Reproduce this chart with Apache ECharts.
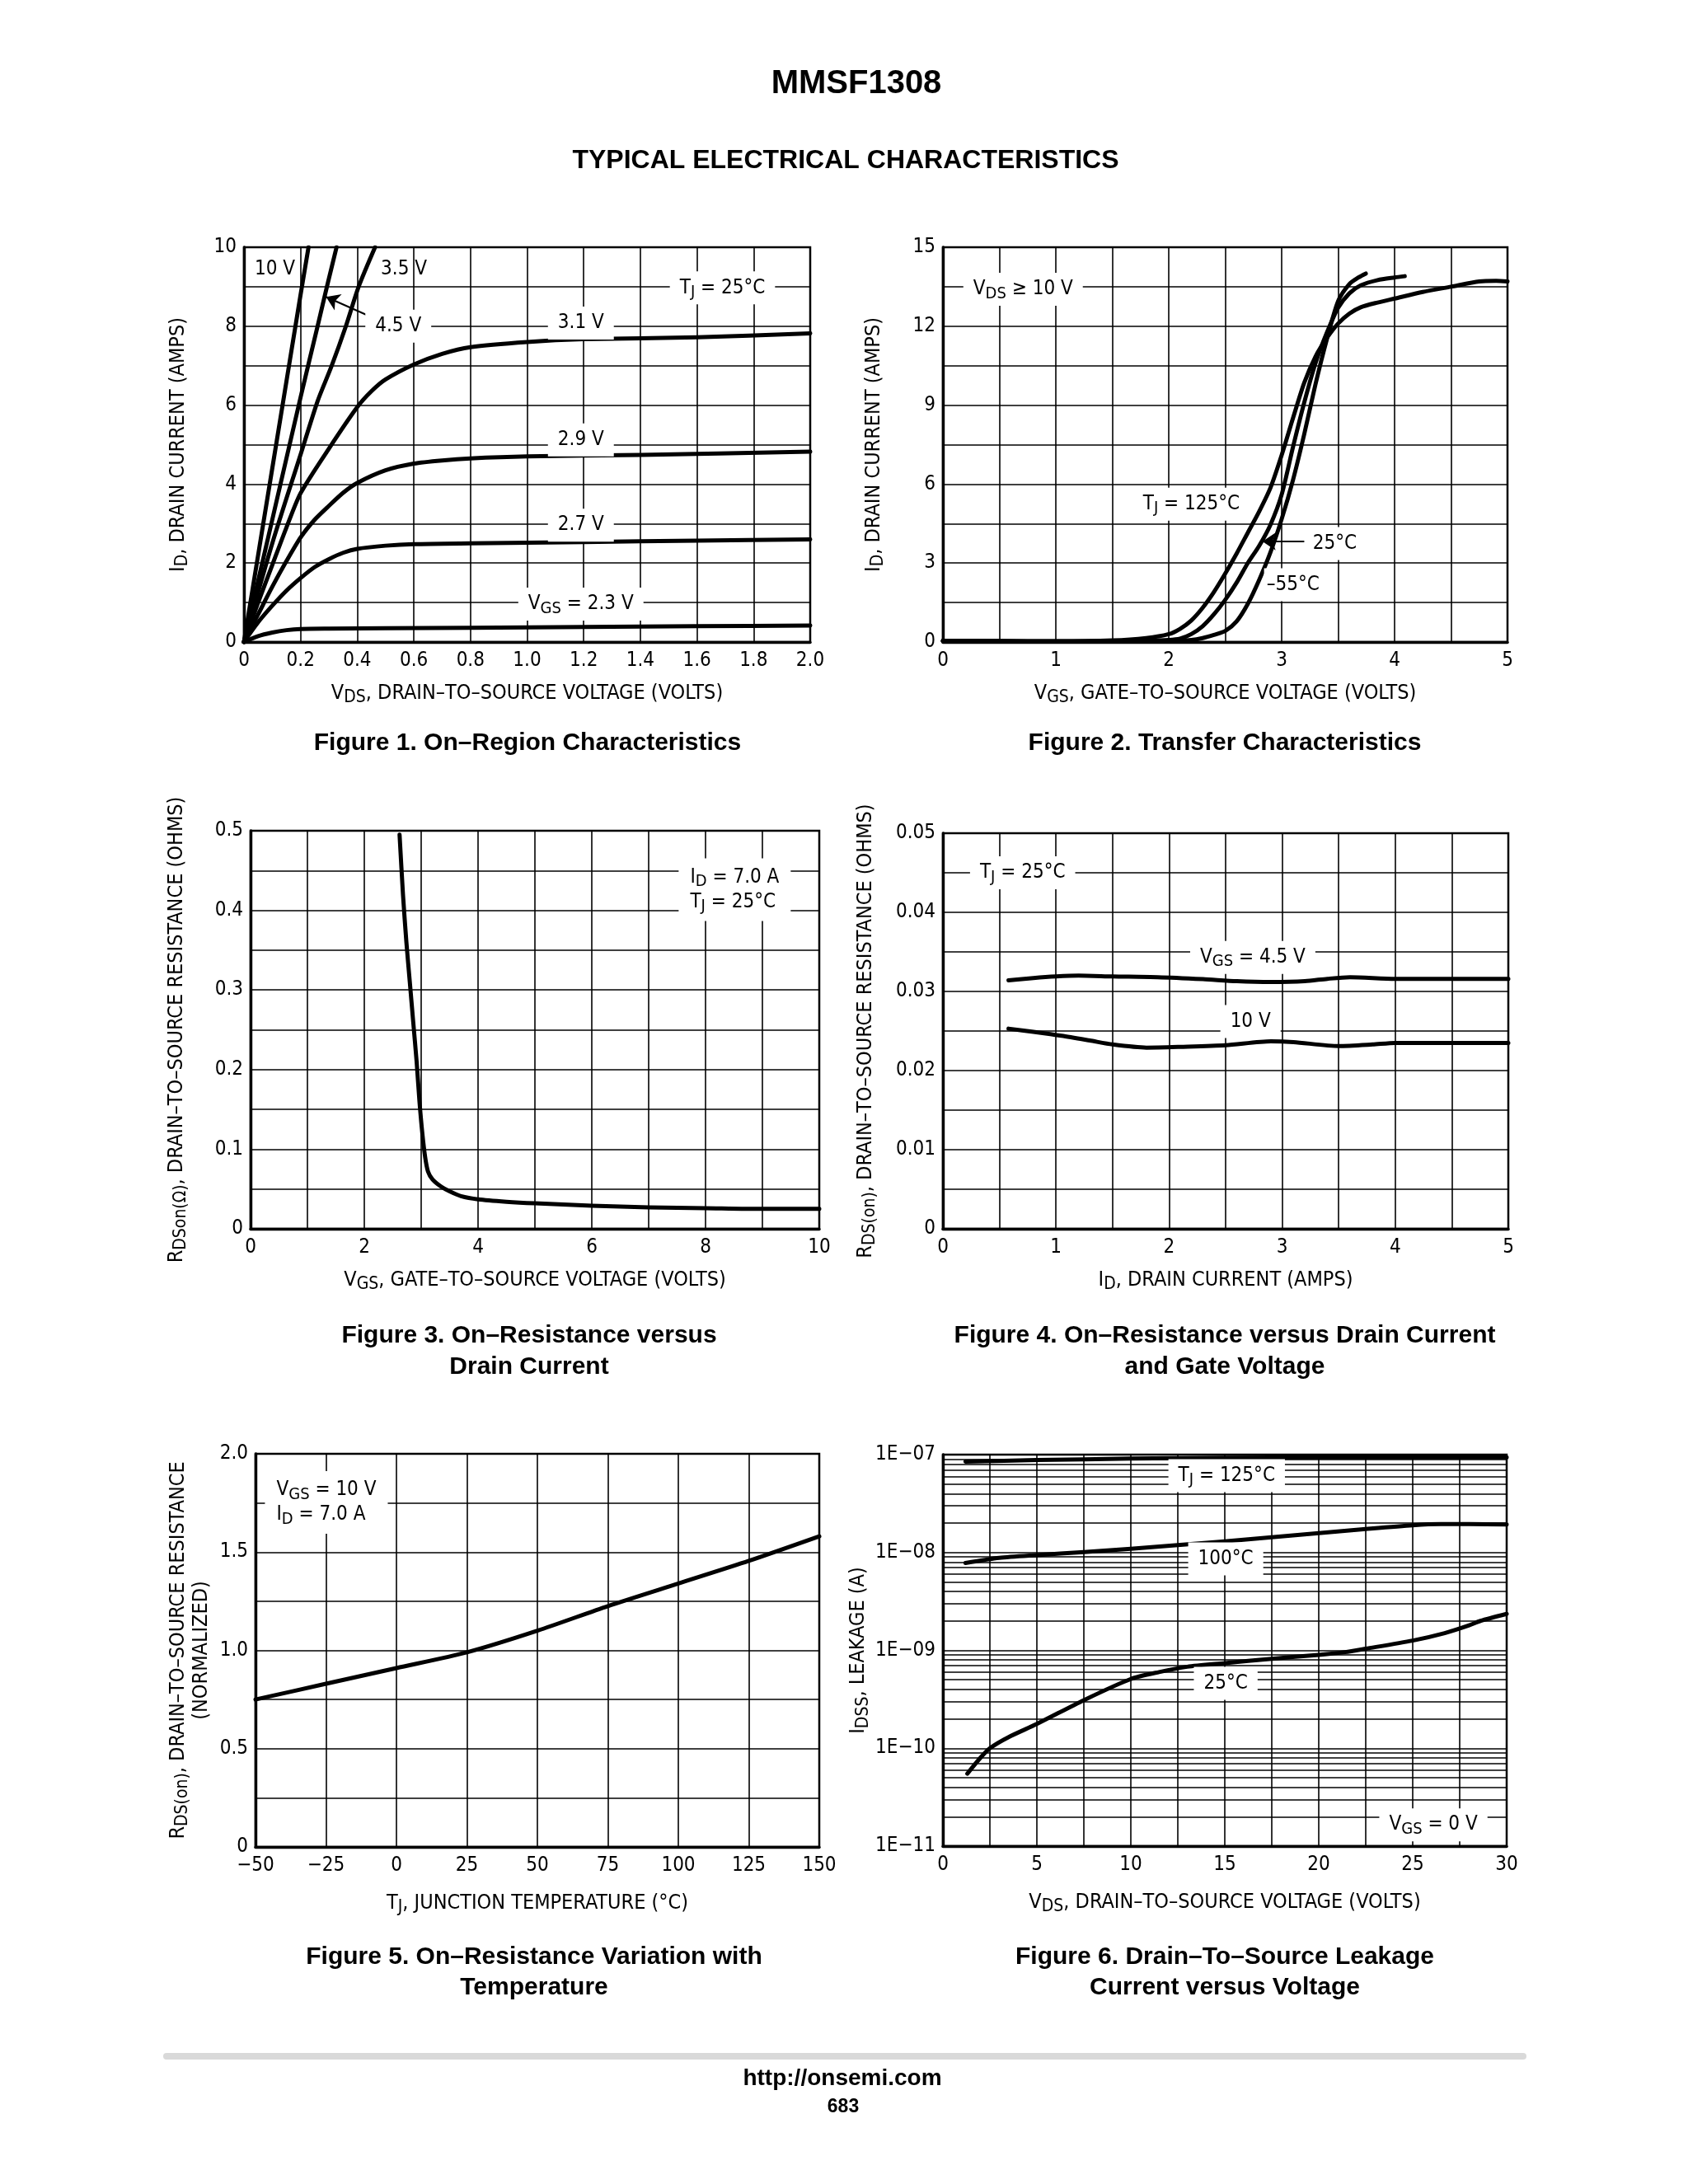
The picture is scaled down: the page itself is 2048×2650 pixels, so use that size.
<!DOCTYPE html>
<html><head><meta charset="utf-8">
<script src="https://cdn.jsdelivr.net/npm/echarts@6/dist/echarts.min.js"></script>
<style>html,body{margin:0;padding:0;background:#fff}#c{width:2048px;height:2650px}</style>
</head><body><div id="c"></div>
<script>
// ================= DATA =================
// Figure 1: ID vs VDS for several VGS
const f1_vgs23 = [[0,0],[0.05,0.15],[0.1,0.24],[0.15,0.3],[0.2,0.33],[0.3,0.34],[0.5,0.35],[0.8,0.36],[1.2,0.38],[1.6,0.4],[2.0,0.42]];
const f1_vgs27 = [[0,0],[0.05,0.5],[0.1,0.92],[0.15,1.3],[0.2,1.62],[0.25,1.9],[0.3,2.1],[0.35,2.26],[0.4,2.36],[0.5,2.44],[0.6,2.48],[0.8,2.5],[1.2,2.53],[1.6,2.57],[2.0,2.6]];
const f1_vgs29 = [[0,0],[0.05,0.7],[0.1,1.4],[0.15,2.05],[0.2,2.65],[0.25,3.1],[0.3,3.45],[0.35,3.78],[0.4,4.03],[0.5,4.35],[0.6,4.52],[0.7,4.6],[0.8,4.65],[1.0,4.7],[1.4,4.74],[2.0,4.82]];
const f1_vgs31 = [[0,0],[0.05,1.0],[0.1,1.95],[0.15,2.9],[0.2,3.77],[0.3,4.9],[0.4,5.95],[0.45,6.35],[0.5,6.65],[0.6,7.03],[0.7,7.3],[0.8,7.47],[1.0,7.6],[1.2,7.67],[1.6,7.72],[2.0,7.82]];
const f1_vgs35 = [[0,0],[0.1,2.5],[0.2,4.75],[0.26,6.1],[0.31,7.0],[0.36,8.0],[0.405,9.0],[0.463,10]];
const f1_vgs45 = [[0,0],[0.1,3.1],[0.2,6.2],[0.26,8.0],[0.293,9.0],[0.327,10]];
const f1_vgs10 = [[0,0],[0.1,4.4],[0.2,8.8],[0.228,10]];
// Figure 2: ID vs VGS at three temperatures
const f2_t125 = [[0,0.05],[0.5,0.04],[1.0,0.03],[1.5,0.06],[1.8,0.15],[2.0,0.3],[2.1,0.5],[2.2,0.82],[2.3,1.3],[2.4,1.9],[2.5,2.6],[2.6,3.35],[2.7,4.15],[2.8,4.95],[2.9,5.85],[3.0,7.1],[3.1,8.5],[3.2,9.85],[3.3,10.85],[3.4,11.55],[3.5,12.1],[3.6,12.48],[3.7,12.72],[3.85,12.9],[4.0,13.05],[4.25,13.3],[4.5,13.5],[4.75,13.7],[4.9,13.72],[5.0,13.7]];
const f2_t25 = [[0,0.05],[0.5,0.03],[1.0,0.02],[1.5,0.03],[1.8,0.05],[2.0,0.08],[2.1,0.13],[2.2,0.3],[2.3,0.6],[2.4,1.05],[2.5,1.6],[2.6,2.25],[2.7,3.0],[2.8,3.65],[2.9,4.45],[3.0,5.6],[3.1,7.4],[3.2,9.1],[3.3,10.6],[3.4,11.75],[3.5,12.7],[3.6,13.25],[3.7,13.55],[3.85,13.75],[4.0,13.85],[4.09,13.9]];
const f2_tm55 = [[0,0.05],[0.5,0.03],[1.0,0.02],[1.5,0.02],[2.0,0.04],[2.2,0.08],[2.3,0.15],[2.4,0.27],[2.5,0.42],[2.6,0.78],[2.7,1.45],[2.8,2.35],[2.9,3.4],[3.0,4.67],[3.1,6.15],[3.2,7.9],[3.3,9.8],[3.4,11.5],[3.5,12.95],[3.6,13.6],[3.68,13.85],[3.745,14.0]];
// Figure 3: RDS(on) vs VGS
const f3_rds = [[2.62,0.495],[2.68,0.42],[2.74,0.36],[2.8,0.31],[2.86,0.26],[2.92,0.21],[2.97,0.16],[3.02,0.12],[3.07,0.09],[3.12,0.072],[3.2,0.062],[3.35,0.053],[3.5,0.047],[3.7,0.041],[4.0,0.037],[4.5,0.034],[5.0,0.032],[6.0,0.029],[7.0,0.027],[8.0,0.026],[9.0,0.025],[10.0,0.025]];
// Figure 4: RDS(on) vs ID
const f4_vgs45 = [[0.58,0.0314],[0.8,0.0317],[1.0,0.0319],[1.2,0.0320],[1.5,0.0319],[1.9,0.0318],[2.3,0.03155],[2.6,0.0313],[2.9,0.0312],[3.2,0.0313],[3.4,0.0316],[3.6,0.0318],[4.0,0.0316],[4.5,0.0316],[5.0,0.0316]];
const f4_vgs10 = [[0.58,0.0253],[0.8,0.0249],[1.05,0.0244],[1.3,0.0238],[1.5,0.0233],[1.8,0.0229],[2.1,0.0230],[2.5,0.0232],[2.9,0.0237],[3.1,0.0236],[3.5,0.0231],[3.8,0.0233],[4.0,0.0235],[4.5,0.0235],[5.0,0.0235]];
// Figure 5: normalized RDS(on) vs TJ
const f5_temp = [-50,-25,0,25,50,75,100,125,150];
const f5_rnorm = [0.75,0.83,0.91,0.99,1.1,1.225,1.34,1.455,1.58];
// Figure 6: IDSS vs VDS
const f6_t125 = [[1.2,8.5e-8],[5,8.8e-8],[10,9.1e-8],[15,9.3e-8],[20,9.4e-8],[25,9.4e-8],[30,9.4e-8]];
const f6_t100 = [[1.2,7.8e-9],[3,8.8e-9],[5,9.4e-9],[7.5,1.01e-8],[10,1.09e-8],[12.5,1.19e-8],[15,1.3e-8],[17.5,1.43e-8],[20,1.58e-8],[22.5,1.74e-8],[25,1.9e-8],[26.5,1.95e-8],[28,1.95e-8],[30,1.93e-8]];
const f6_t25 = [[1.3,5.5e-11],[2,8.0e-11],[2.5,1.0e-10],[3.5,1.3e-10],[5,1.77e-10],[7.5,3.1e-10],[10,5.1e-10],[11.5,6.0e-10],[13,6.8e-10],[15,7.4e-10],[17.5,8.2e-10],[20,9.0e-10],[21.4,9.6e-10],[22.5,1.04e-9],[25,1.26e-9],[26.7,1.5e-9],[28,1.8e-9],[28.6,2.0e-9],[30,2.36e-9]];

// Annotations (text + anchor in data units)
const f1_notes = [
  {text:'{n|10 V}', at:[0.109,9.45]},
  {text:'{n|3.5 V}', at:[0.565,9.45]},
  {text:'{n|4.5 V}', at:[0.545,8.0], bg:true},
  {text:'{n|T}{s|J}{n| = 25°C}', at:[1.69,8.97], bg:true},
  {text:'{n|3.1 V}', at:[1.19,8.08], bg:true},
  {text:'{n|2.9 V}', at:[1.19,5.12], bg:true},
  {text:'{n|2.7 V}', at:[1.19,2.96], bg:true},
  {text:'{n|V}{s|GS}{n| = 2.3 V}', at:[1.19,0.96], bg:true}
];
const f1_arrows = [{from:[0.444,8.25], to:[0.29,8.74]}];
const f2_notes = [
  {text:'{n|V}{s|DS}{n| ≥ 10 V}', at:[0.71,13.4], bg:true},
  {text:'{n|T}{s|J}{n| = 125°C}', at:[2.2,5.24], bg:true, tight:true},
  {text:'{n|25°C}', at:[3.47,3.74], bg:true, tight:true},
  {text:'{n|–55°C}', at:[3.1,2.18], bg:true, tight:true}
];
const f2_arrows = [{from:[3.2,3.82], to:[2.83,3.82]}];
const f3_notes = [{text:'{n|I}{s|D}{n| = 7.0 A}\n{n|T}{s|J}{n| = 25°C}', at:[7.52,0.426], bg:true, left:true}];
const f4_notes = [
  {text:'{n|T}{s|J}{n| = 25°C}', at:[0.705,0.045], bg:true},
  {text:'{n|V}{s|GS}{n| = 4.5 V}', at:[2.74,0.0343], bg:true},
  {text:'{n|10 V}', at:[2.72,0.0262], bg:true}
];
const f5_notes = [{text:'{n|V}{s|GS}{n| = 10 V}\n{n|I}{s|D}{n| = 7.0 A}', at:[-46.8,1.753], bg:true, left:true}];
const f6_notes = [
  {text:'{n|T}{s|J}{n| = 125°C}', at:[15.1,6.1e-8], bg:true},
  {text:'{n|100°C}', at:[15.05,8.6e-9], bg:true},
  {text:'{n|25°C}', at:[15.05,4.6e-10], bg:true},
  {text:'{n|V}{s|GS}{n| = 0 V}', at:[26.1,1.65e-11], bg:true}
];

// ================= STYLE / BUILD =================
const FONT = '"Liberation Sans Narrow","Arial Narrow","DejaVu Sans Condensed","Liberation Sans",Arial,sans-serif';
const BFONT = '"Liberation Sans",Arial,Helvetica,sans-serif';
const TICK = 24, NAME = 25, ANN = 24;
const richName = {
  n:{fontSize:NAME, fontFamily:FONT, color:'#000', lineHeight:28},
  s:{fontSize:21, fontFamily:FONT, color:'#000', padding:[12,0,0,0], lineHeight:22}
};
const richAnn = {
  n:{fontSize:ANN, fontFamily:FONT, color:'#000', lineHeight:30},
  s:{fontSize:20, fontFamily:FONT, color:'#000', padding:[11,0,0,0], lineHeight:20}
};
const near = (v, step) => Math.abs(v/step - Math.round(v/step)) < 1e-6;

const gridPos = [
  {left:296, top:300, width:687, height:479},
  {left:1144, top:300, width:685, height:479},
  {left:304, top:1008, width:690, height:483},
  {left:1144, top:1011, width:686, height:480},
  {left:310, top:1764, width:684, height:477},
  {left:1144, top:1765, width:684, height:475}
];
const grids = gridPos.map(g => Object.assign({show:true, borderColor:'#000', borderWidth:2.5,
  backgroundColor:'transparent', containLabel:false, outerBoundsMode:'none'}, g));

function axis(dim, gi, o) {
  const a = {
    type: o.type || 'value', gridIndex: gi, min: o.min, max: o.max,
    position: dim === 'x' ? 'bottom' : 'left',
    axisLine: {show:true, onZero:false, lineStyle:{color:'#000', width:3.4}},
    axisTick: {show:false},
    splitLine: {show:true, lineStyle:{color:'#000', width:1.6}},
    axisLabel: {show:true, color:'#000', fontFamily:FONT, fontSize:TICK, margin: dim === 'x' ? 11 : 9, formatter:o.fmt},
    name: o.name, nameLocation:'middle', nameGap:o.gap,
    nameTextStyle: {color:'#000', fontFamily:FONT, fontSize:NAME, rich:richName}
  };
  if (o.interval !== undefined) a.interval = o.interval;
  if (o.logBase) a.logBase = o.logBase;
  return a;
}
const VDS = '{n|V}{s|DS}{n|, DRAIN–TO–SOURCE VOLTAGE (VOLTS)}';
const VGS = '{n|V}{s|GS}{n|, GATE–TO–SOURCE VOLTAGE (VOLTS)}';
const ID = '{n|I}{s|D}{n|, DRAIN CURRENT (AMPS)}';

const xAxes = [
  axis('x',0,{min:0,max:2,interval:0.2,fmt:v=> v<1e-9?'0':v.toFixed(1),name:VDS,gap:48}),
  axis('x',1,{min:0,max:5,interval:0.5,fmt:v=> near(v,1)?String(Math.round(v)):'',name:VGS,gap:48}),
  axis('x',2,{min:0,max:10,interval:1,fmt:v=> near(v,2)?String(Math.round(v)):'',name:VGS,gap:48}),
  axis('x',3,{min:0,max:5,interval:0.5,fmt:v=> near(v,1)?String(Math.round(v)):'',name:ID,gap:48}),
  axis('x',4,{min:-50,max:150,interval:25,fmt:v=> (v<0?'−':'')+Math.abs(Math.round(v)),name:'{n|T}{s|J}{n|, JUNCTION TEMPERATURE (°C)}',gap:54}),
  axis('x',5,{min:0,max:30,interval:2.5,fmt:v=> near(v,5)?String(Math.round(v)):'',name:VDS,gap:54})
];
const yAxes = [
  axis('y',0,{min:0,max:10,interval:1,fmt:v=> near(v,2)?String(Math.round(v)):'',name:ID,gap:66}),
  axis('y',1,{min:0,max:15,interval:1.5,fmt:v=> near(v,3)?String(Math.round(v)):'',name:ID,gap:70}),
  axis('y',2,{min:0,max:0.5,interval:0.05,fmt:v=> near(v,0.1)?(v<1e-9?'0':v.toFixed(1)):'',name:'{n|R}{s|DSon(Ω)}{n|, DRAIN–TO–SOURCE RESISTANCE (OHMS)}',gap:76}),
  axis('y',3,{min:0,max:0.05,interval:0.005,fmt:v=> near(v,0.01)?(v<1e-9?'0':v.toFixed(2)):'',name:'{n|R}{s|DS(on)}{n|, DRAIN–TO–SOURCE RESISTANCE (OHMS)}',gap:80}),
  axis('y',4,{min:0,max:2,interval:0.25,fmt:v=> near(v,0.5)?(v<1e-9?'0':v.toFixed(1)):'',name:'{n|R}{s|DS(on)}{n|, DRAIN–TO–SOURCE RESISTANCE}\n{n|(NORMALIZED)}',gap:52}),
  axis('y',5,{type:'log',logBase:10,min:1e-11,max:1e-7,fmt:v=>{const e=Math.round(Math.log10(v));return '1E−'+String(-e).padStart(2,'0');},name:'{n|I}{s|DSS}{n|, LEAKAGE (A)}',gap:82})
];

function curve(gi, data) {
  return {type:'line', xAxisIndex:gi, yAxisIndex:gi, data:data, showSymbol:false, symbol:'none',
    smooth:0.25, silent:true, z:3, lineStyle:{color:'#000', width:5, cap:'round', join:'round'}};
}
function notes(gi, list, arrows) {
  const s = {type:'scatter', xAxisIndex:gi, yAxisIndex:gi, data:[], z:2, silent:true,
    markPoint:{symbol:'rect', symbolSize:1, itemStyle:{color:'rgba(0,0,0,0)'}, animation:false, silent:true,
      data:list.map(n => ({coord:n.at, label:{show:true, formatter:n.text,
        position: n.left ? 'right' : 'inside', distance:0, align: n.left ? 'left' : 'center', verticalAlign:'middle',
        color:'#000', fontFamily:FONT, fontSize:ANN, rich:richAnn,
        backgroundColor: n.bg ? '#fff' : 'transparent', padding: n.left ? [8,14] : (n.tight ? [5,3] : [5,12])}}))}
  };
  if (arrows) {
    s.markLine = {silent:true, animation:false, symbol:['none','arrow'], symbolSize:16,
      lineStyle:{color:'#000', width:2.2, type:'solid'}, itemStyle:{color:'#000'}, label:{show:false},
      data: arrows.map(a => [{coord:a.from},{coord:a.to}])};
  }
  return s;
}
// log minor grid lines for figure 6 (2..9 per decade)
const minorVals = [];
for (let e = -11; e < -7; e++) for (let k = 2; k <= 9; k++) minorVals.push(k * Math.pow(10, e));

const series = [
  {type:'scatter', xAxisIndex:5, yAxisIndex:5, data:[], z:1, silent:true,
   markLine:{silent:true, animation:false, symbol:['none','none'], label:{show:false},
     lineStyle:{color:'#000', width:1.5, type:'solid'}, itemStyle:{color:'#000'},
     data:minorVals.map(v => [{coord:[0,v]},{coord:[30,v]}])}},
  notes(0,f1_notes,f1_arrows), notes(1,f2_notes,f2_arrows), notes(2,f3_notes), notes(3,f4_notes), notes(4,f5_notes), notes(5,f6_notes),
  curve(0,f1_vgs23), curve(0,f1_vgs27), curve(0,f1_vgs29), curve(0,f1_vgs31), curve(0,f1_vgs35), curve(0,f1_vgs45), curve(0,f1_vgs10),
  curve(1,f2_t125), curve(1,f2_t25), curve(1,f2_tm55),
  curve(2,f3_rds),
  curve(3,f4_vgs45), curve(3,f4_vgs10),
  curve(4,f5_temp.map((t,i)=>[t,f5_rnorm[i]])),
  curve(5,f6_t125), curve(5,f6_t100), curve(5,f6_t25)
];

function txt(x, y, text, size, weight) {
  return {type:'text', x:x, y:y, silent:true,
    style:{text:text, fill:'#000', font:(weight||'bold')+' '+size+'px '+BFONT, align:'center', verticalAlign:'middle'}};
}
const graphic = [
  txt(1039,102,'MMSF1308',40),
  txt(1026,195,'TYPICAL ELECTRICAL CHARACTERISTICS',32),
  txt(640,902,'Figure 1. On–Region Characteristics',30),
  txt(1486,902,'Figure 2. Transfer Characteristics',30),
  txt(642,1621,'Figure 3. On–Resistance versus',30),
  txt(642,1659,'Drain Current',30),
  txt(1486,1621,'Figure 4. On–Resistance versus Drain Current',30),
  txt(1486,1659,'and Gate Voltage',30),
  txt(648,2375,'Figure 5. On–Resistance Variation with',30),
  txt(648,2412,'Temperature',30),
  txt(1486,2375,'Figure 6. Drain–To–Source Leakage',30),
  txt(1486,2412,'Current versus Voltage',30),
  {type:'rect', silent:true, shape:{x:198, y:2491, width:1654, height:8, r:4}, style:{fill:'#d9d9d9'}},
  txt(1022,2522,'http://onsemi.com',28),
  txt(1023,2557,'683',23)
];

const chart = echarts.init(document.getElementById('c'), null, {renderer:'canvas', width:2048, height:2650});
chart.setOption({
  animation:false,
  backgroundColor:'#fff',
  grid:grids, xAxis:xAxes, yAxis:yAxes, series:series, graphic:graphic
});
</script>
</body></html>
